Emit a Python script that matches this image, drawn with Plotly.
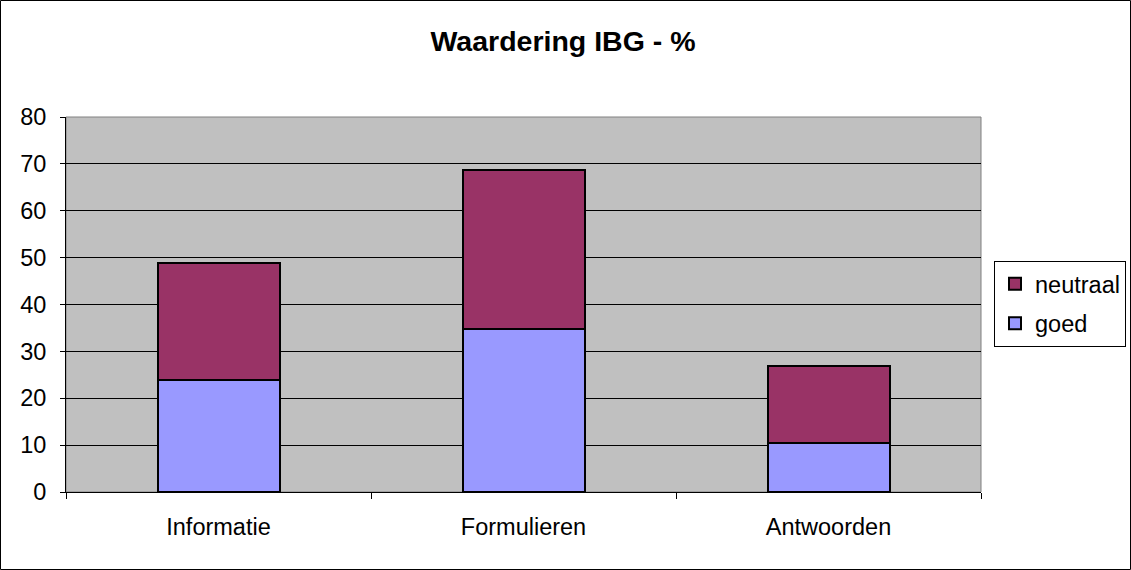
import plotly.graph_objects as go

# data
categories = ['Informatie', 'Formulieren', 'Antwoorden']
goed = [24.0, 34.7, 10.4]
neutraal = [24.8, 34.1, 16.4]

W, H = 1131, 570
L, R, T, B = 66, 981, 117, 492  # plot area in pixels
pw, ph = R - L, B - T

font = dict(family='Liberation Sans, Arial, sans-serif', size=23.5, color='black')

trace_goed = go.Bar(
    x=categories, y=goed, name='goed', legendgroup='g', legendrank=2,
    marker=dict(color='#9999FF', line=dict(color='black', width=2))
)
trace_neutraal = go.Bar(
    x=categories, y=neutraal, name='neutraal', legendgroup='n', legendrank=1,
    marker=dict(color='#993366', line=dict(color='black', width=2))
)

fig = go.Figure(data=[trace_goed, trace_neutraal])

fig.update_layout(
    width=W, height=H,
    margin=dict(l=L, r=W - R, t=T, b=H - B, autoexpand=False),
    barmode='stack', bargap=0.6,
    plot_bgcolor='#C0C0C0', paper_bgcolor='white',
    font=font,
    title=dict(text='<b>Waardering IBG - %</b>', x=563 / W, xanchor='center',
               y=1 - 41 / H, yanchor='middle', font=dict(size=28.5)),
    legend=dict(x=(994 - L) / pw, xanchor='left', y=(B - 304) / ph, yanchor='middle',
                traceorder='grouped', tracegroupgap=6,
                bordercolor='black', borderwidth=1,
                bgcolor='white', font=dict(size=23.5), itemwidth=30),
    showlegend=True,
)

fig.update_xaxes(
    showline=True, linecolor='black', linewidth=1,
    ticks='outside', tickson='boundaries', ticklen=6, tickcolor='black',
    ticklabelstandoff=14, showgrid=False,
)
fig.update_yaxes(
    range=[0, 80], dtick=10, showline=True, linecolor='black', linewidth=1,
    ticks='outside', ticklen=5, tickcolor='black', ticklabelstandoff=9,
    showgrid=True, gridcolor='black', gridwidth=1, zeroline=False,
)

# grey border around plot area and black frame around whole chart
fig.add_shape(type='rect', xref='paper', yref='paper', x0=0, x1=1, y0=0, y1=1,
              line=dict(color='#808080', width=1), layer='below')
fig.add_shape(type='rect', xref='paper', yref='paper',
              x0=(0.5 - L) / pw, x1=(W - 0.5 - L) / pw,
              y0=(B - (H - 0.5)) / ph, y1=(B - 0.5) / ph,
              line=dict(color='black', width=1))

fig.write_html('out.html', config={'displayModeBar': False},
               post_script="document.body.style.margin='0';")
